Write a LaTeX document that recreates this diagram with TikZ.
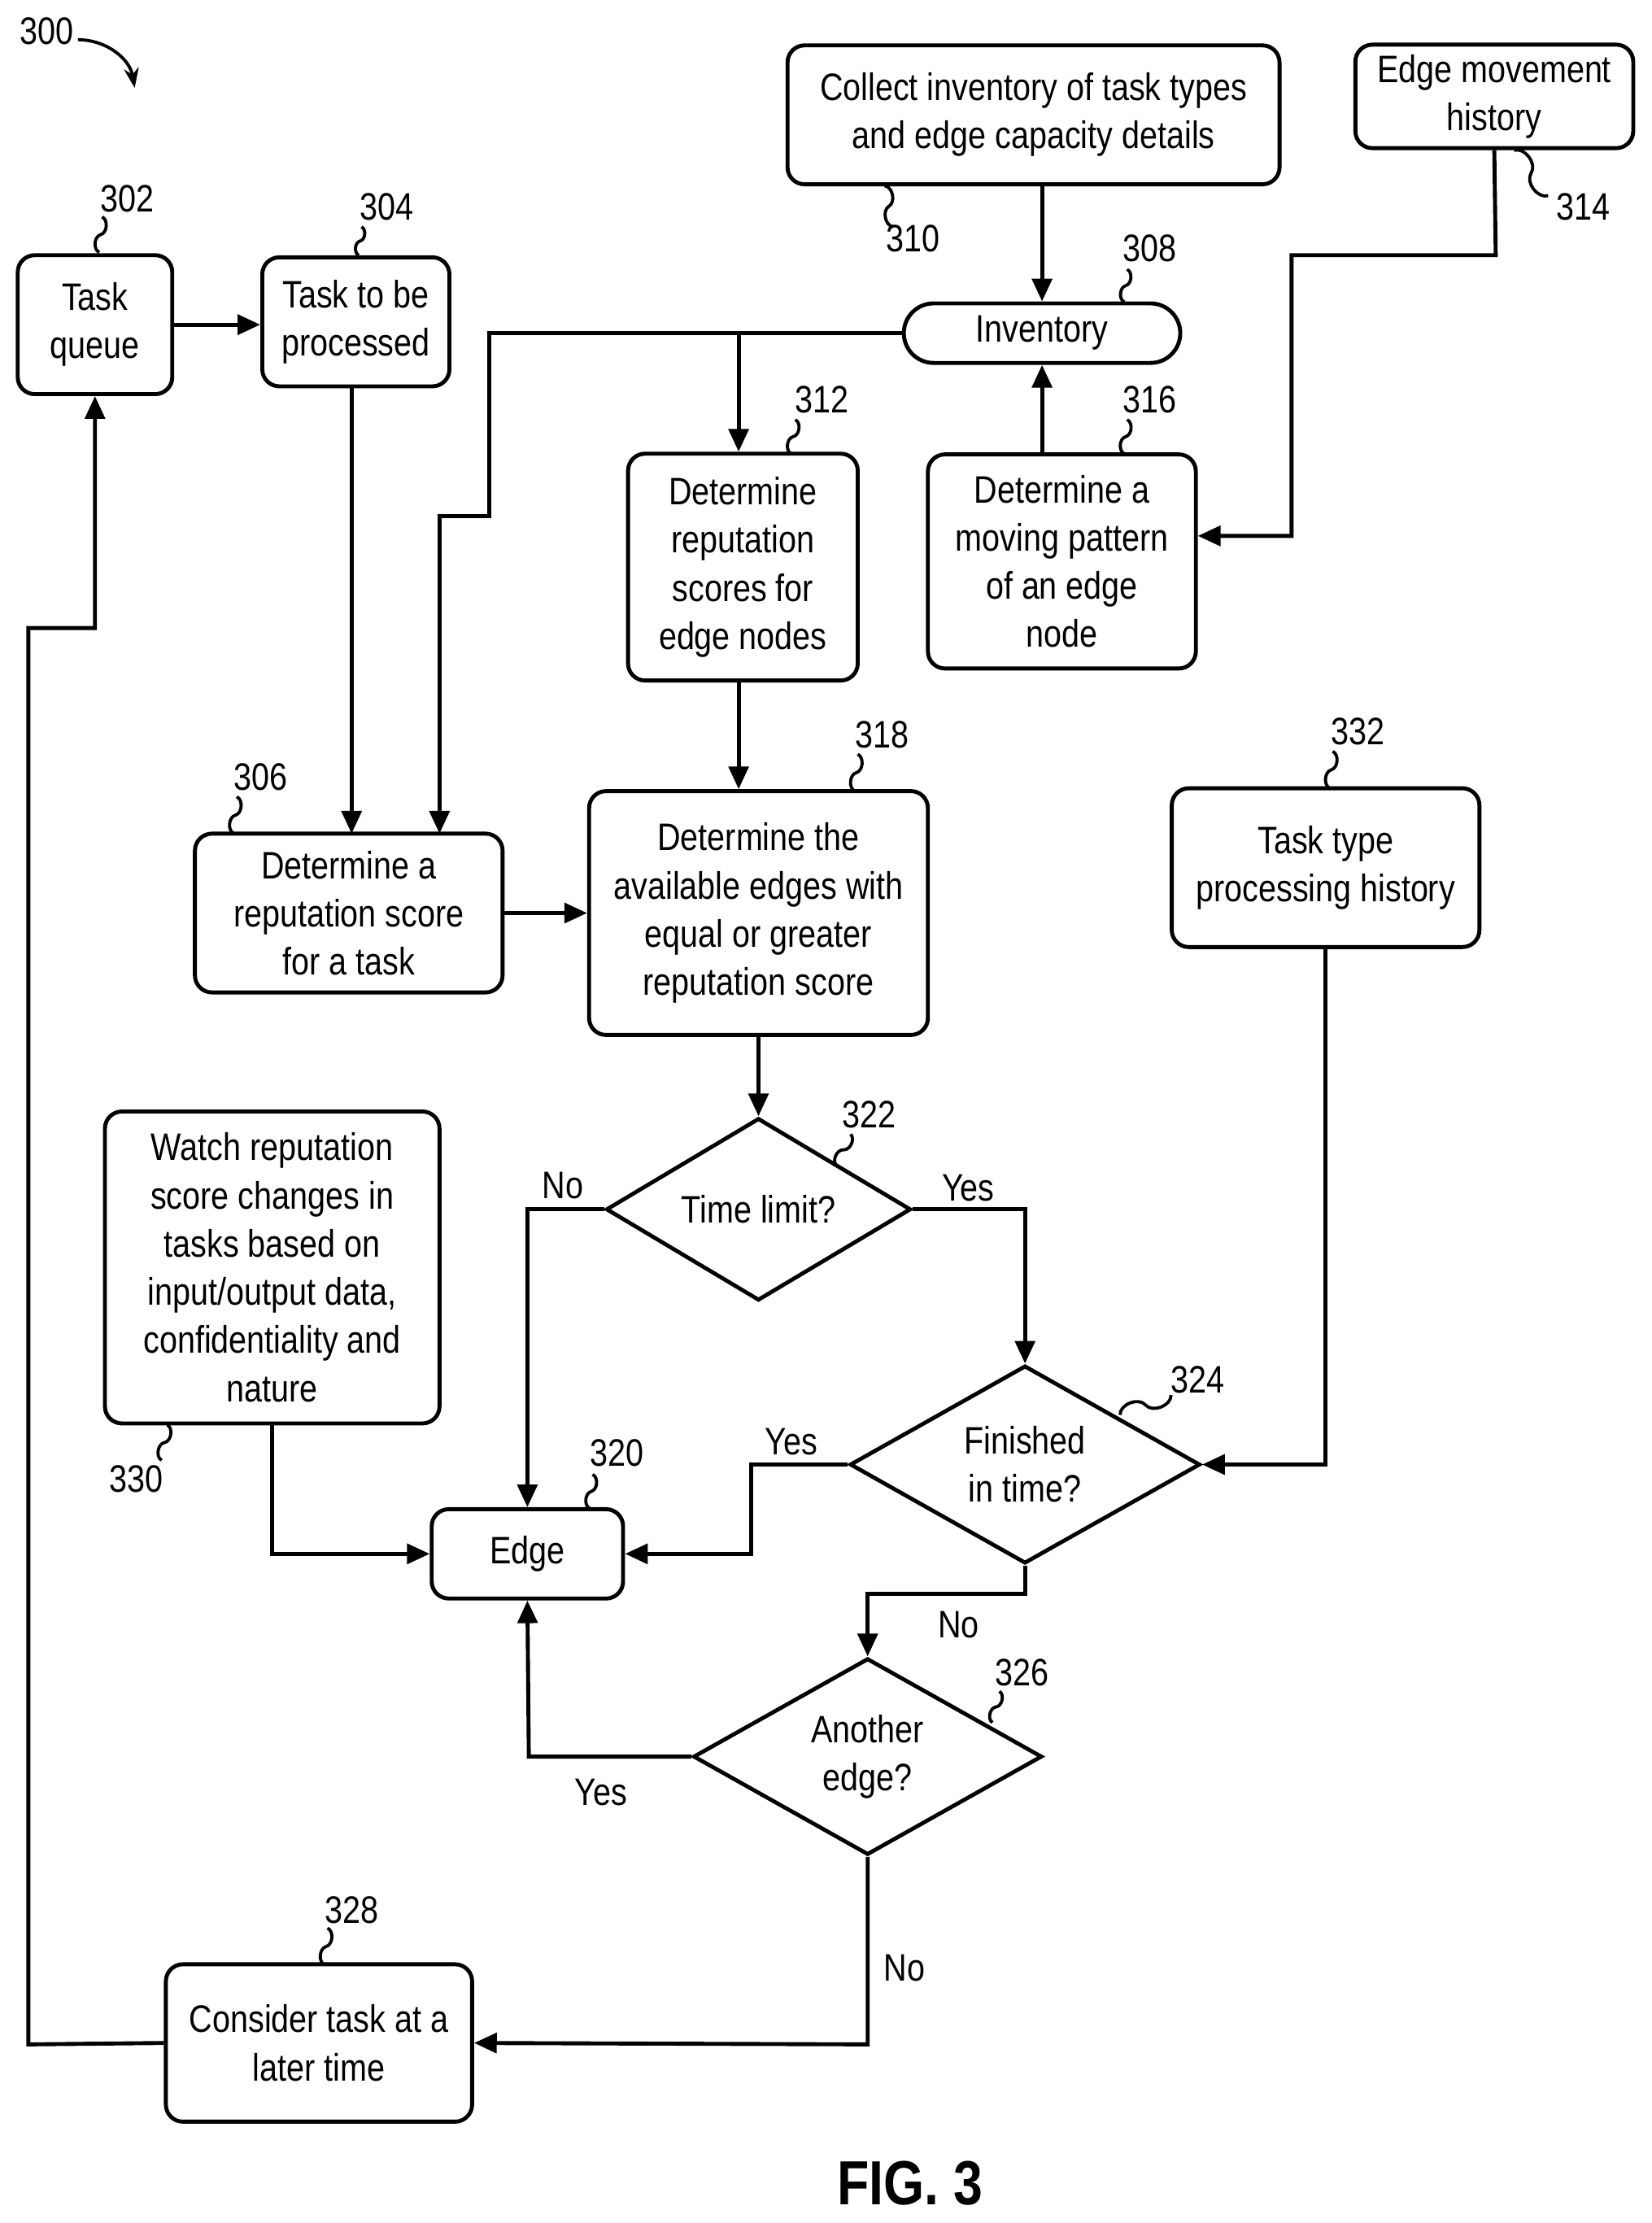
\documentclass[tikz,border=0pt]{standalone}
\usepackage{fontspec}
\setmainfont{Liberation Sans}[FakeStretch=0.84]
\usetikzlibrary{shapes.geometric}
\usetikzlibrary{arrows.meta}

\tikzset{
  box/.style={draw, line width=1.4pt, rounded corners=6pt, align=center, inner sep=0pt},
  dia/.style={draw, line width=1.4pt, diamond, inner sep=0pt, align=center},
  flow/.style={line width=1.4pt, -{Triangle[length=8pt,width=7pt]}},
  lead/.style={line width=1.1pt},
  num/.style={inner sep=0pt}
}
\newcommand{\squig}[4]{\draw[lead] (#1,#2) to[bend left=70] ({(#1+#3)/2},{(#2+#4)/2}) to[bend right=70] (#3,#4);}

\begin{document}
\begin{tikzpicture}[x=0.5pt,y=-0.5pt,font=\fontsize{13.5}{17}\selectfont]
\useasboundingbox (0,0) rectangle (1165,1568);

% boxes
\node[box, minimum width=54.5pt, minimum height=49pt] (queue) at (67,229) {Task\\queue};
\node[box, minimum width=66pt, minimum height=45.5pt] (tobe) at (251,227) {Task to be\\processed};
\node[box, minimum width=173.5pt, minimum height=49pt] (collect) at (729,81) {Collect inventory of task types\\and edge capacity details};
\node[box, minimum width=98pt, minimum height=36.5pt] (move) at (1054,68) {Edge movement\\history};
\node[box, rounded corners=10.5pt, minimum width=97.5pt, minimum height=21pt] (inv) at (735,235) {Inventory};
\node[box, minimum width=81pt, minimum height=80pt] (repedge) at (524,400) {Determine\\reputation\\scores for\\edge nodes};
\node[box, minimum width=94.5pt, minimum height=75.5pt] (pattern) at (749,396) {Determine a\\moving pattern\\of an edge\\node};
\node[box, minimum width=108.5pt, minimum height=56pt] (reptask) at (246,644) {Determine a\\reputation score\\for a task};
\node[box, minimum width=119.5pt, minimum height=86pt] (avail) at (535,644) {Determine the\\available edges with\\equal or greater\\reputation score};
\node[box, minimum width=108.5pt, minimum height=56pt] (hist) at (935,612) {Task type\\processing history};
\node[box, minimum width=118pt, minimum height=110pt] (watch) at (192,894) {Watch reputation\\score changes in\\tasks based on\\input/output data,\\confidentiality and\\nature};
\node[box, minimum width=67.5pt, minimum height=31.5pt] (edge) at (372,1096) {Edge};
\node[box, minimum width=108pt, minimum height=55.5pt] (later) at (225,1441) {Consider task at a\\later time};

% decisions
\node[dia, minimum width=107.5pt, minimum height=58.5pt] (limit) at (535,853) {Time limit?};
\node[dia, minimum width=123.5pt, minimum height=67pt] (fin) at (723,1033) {Finished\\in time?};
\node[dia, minimum width=123pt, minimum height=66.5pt] (another) at (612,1239) {Another\\edge?};

% connectors
\draw[flow] (queue.east |- 0,229) -- (tobe.west |- 0,229);
\draw[flow] (tobe.south -| 248,0) -- (248,588);
\draw[flow] (collect.south -| inv.north) -- (inv.north);
\draw[flow] (pattern.north -| inv.south) -- (inv.south);
\draw[flow] (inv.west) -- (345,235) -- (345,364) -- (310,364) -- (310,588);
\draw[flow] (521,235) -- (repedge.north -| 521,0);
\draw[flow] (move.south) -- (1055,180) -- (911,180) -- (911,378) -- (pattern.east |- 0,378);
\draw[flow] (repedge.south -| 521,0) -- (avail.north -| 521,0);
\draw[flow] (reptask) -- (avail);
\draw[flow] (avail) -- (limit);
\draw[flow] (limit.west) -- (372,853) -- (edge.north);
\draw[flow] (limit.east) -- (723,853) -- (fin.north);
\draw[flow] (hist.south) -- (935,1033) -- (fin.east);
\draw[flow] (fin.west) -- (530,1033) -- (530,1096) -- (edge.east);
\draw[flow] (watch.south) -- (192,1096) -- (edge.west);
\draw[flow] (fin.south) -- (723,1124) -- (612,1124) -- (another.north);
\draw[flow] (another.west) -- (373,1239) -- (edge.south);
\draw[flow] (another.south) -- (612,1442) -- (later.east);
\draw[flow] (later.west) -- (20,1442) -- (20,443) -- (67,443) -- (queue.south);

% branch labels
\node[num] (l1) at (397,836) {No};
\node[num] (l2) at (683,838) {Yes};
\node[num] (l3) at (558,1017) {Yes};
\node[num] (l4) at (676,1146) {No};
\node[num] (l5) at (424,1264) {Yes};
\node[num] (l6) at (638,1388) {No};

% reference numerals
\node[num] (n300) at (33,22) {300};
\draw[lead, -{Stealth[length=7pt]}] (55,28) to[bend left=40] (95,62);
\node[num] (n302) at (90,140) {302}; \squig{72}{153}{70}{178}
\node[num] (n304) at (273,146) {304}; \squig{255}{160}{253}{180}
\node[num] (n310) at (644,168) {310}; \squig{630}{160}{624}{131}
\node[num] (n308) at (811,175) {308}; \squig{795}{190}{793}{213}
\node[num] (n314) at (1117,146) {314}; \squig{1092}{138}{1068}{106}
\node[num] (n312) at (580,282) {312}; \squig{561}{296}{558}{320}
\node[num] (n316) at (811,282) {316}; \squig{795}{296}{793}{320}
\node[num] (n306) at (184,548) {306}; \squig{167}{562}{165}{588}
\node[num] (n318) at (622,518) {318}; \squig{605}{532}{603}{558}
\node[num] (n332) at (958,516) {332}; \squig{940}{530}{938}{556}
\node[num] (n322) at (613,786) {322}; \squig{600}{800}{590}{822}
\node[num] (n324) at (845,973) {324}; \squig{826}{984}{790}{998}
\node[num] (n320) at (435,1025) {320}; \squig{418}{1040}{416}{1064}
\node[num] (n326) at (721,1180) {326}; \squig{705}{1193}{700}{1215}
\node[num] (n328) at (248,1347) {328}; \squig{231}{1360}{229}{1386}
\node[num] (n330) at (96,1043) {330}; \squig{114}{1030}{118}{1005}

\node[num, font=\fontsize{22}{26}\bfseries\selectfont] (fig) at (642,1540) {FIG. 3};
\end{tikzpicture}
\end{document}
